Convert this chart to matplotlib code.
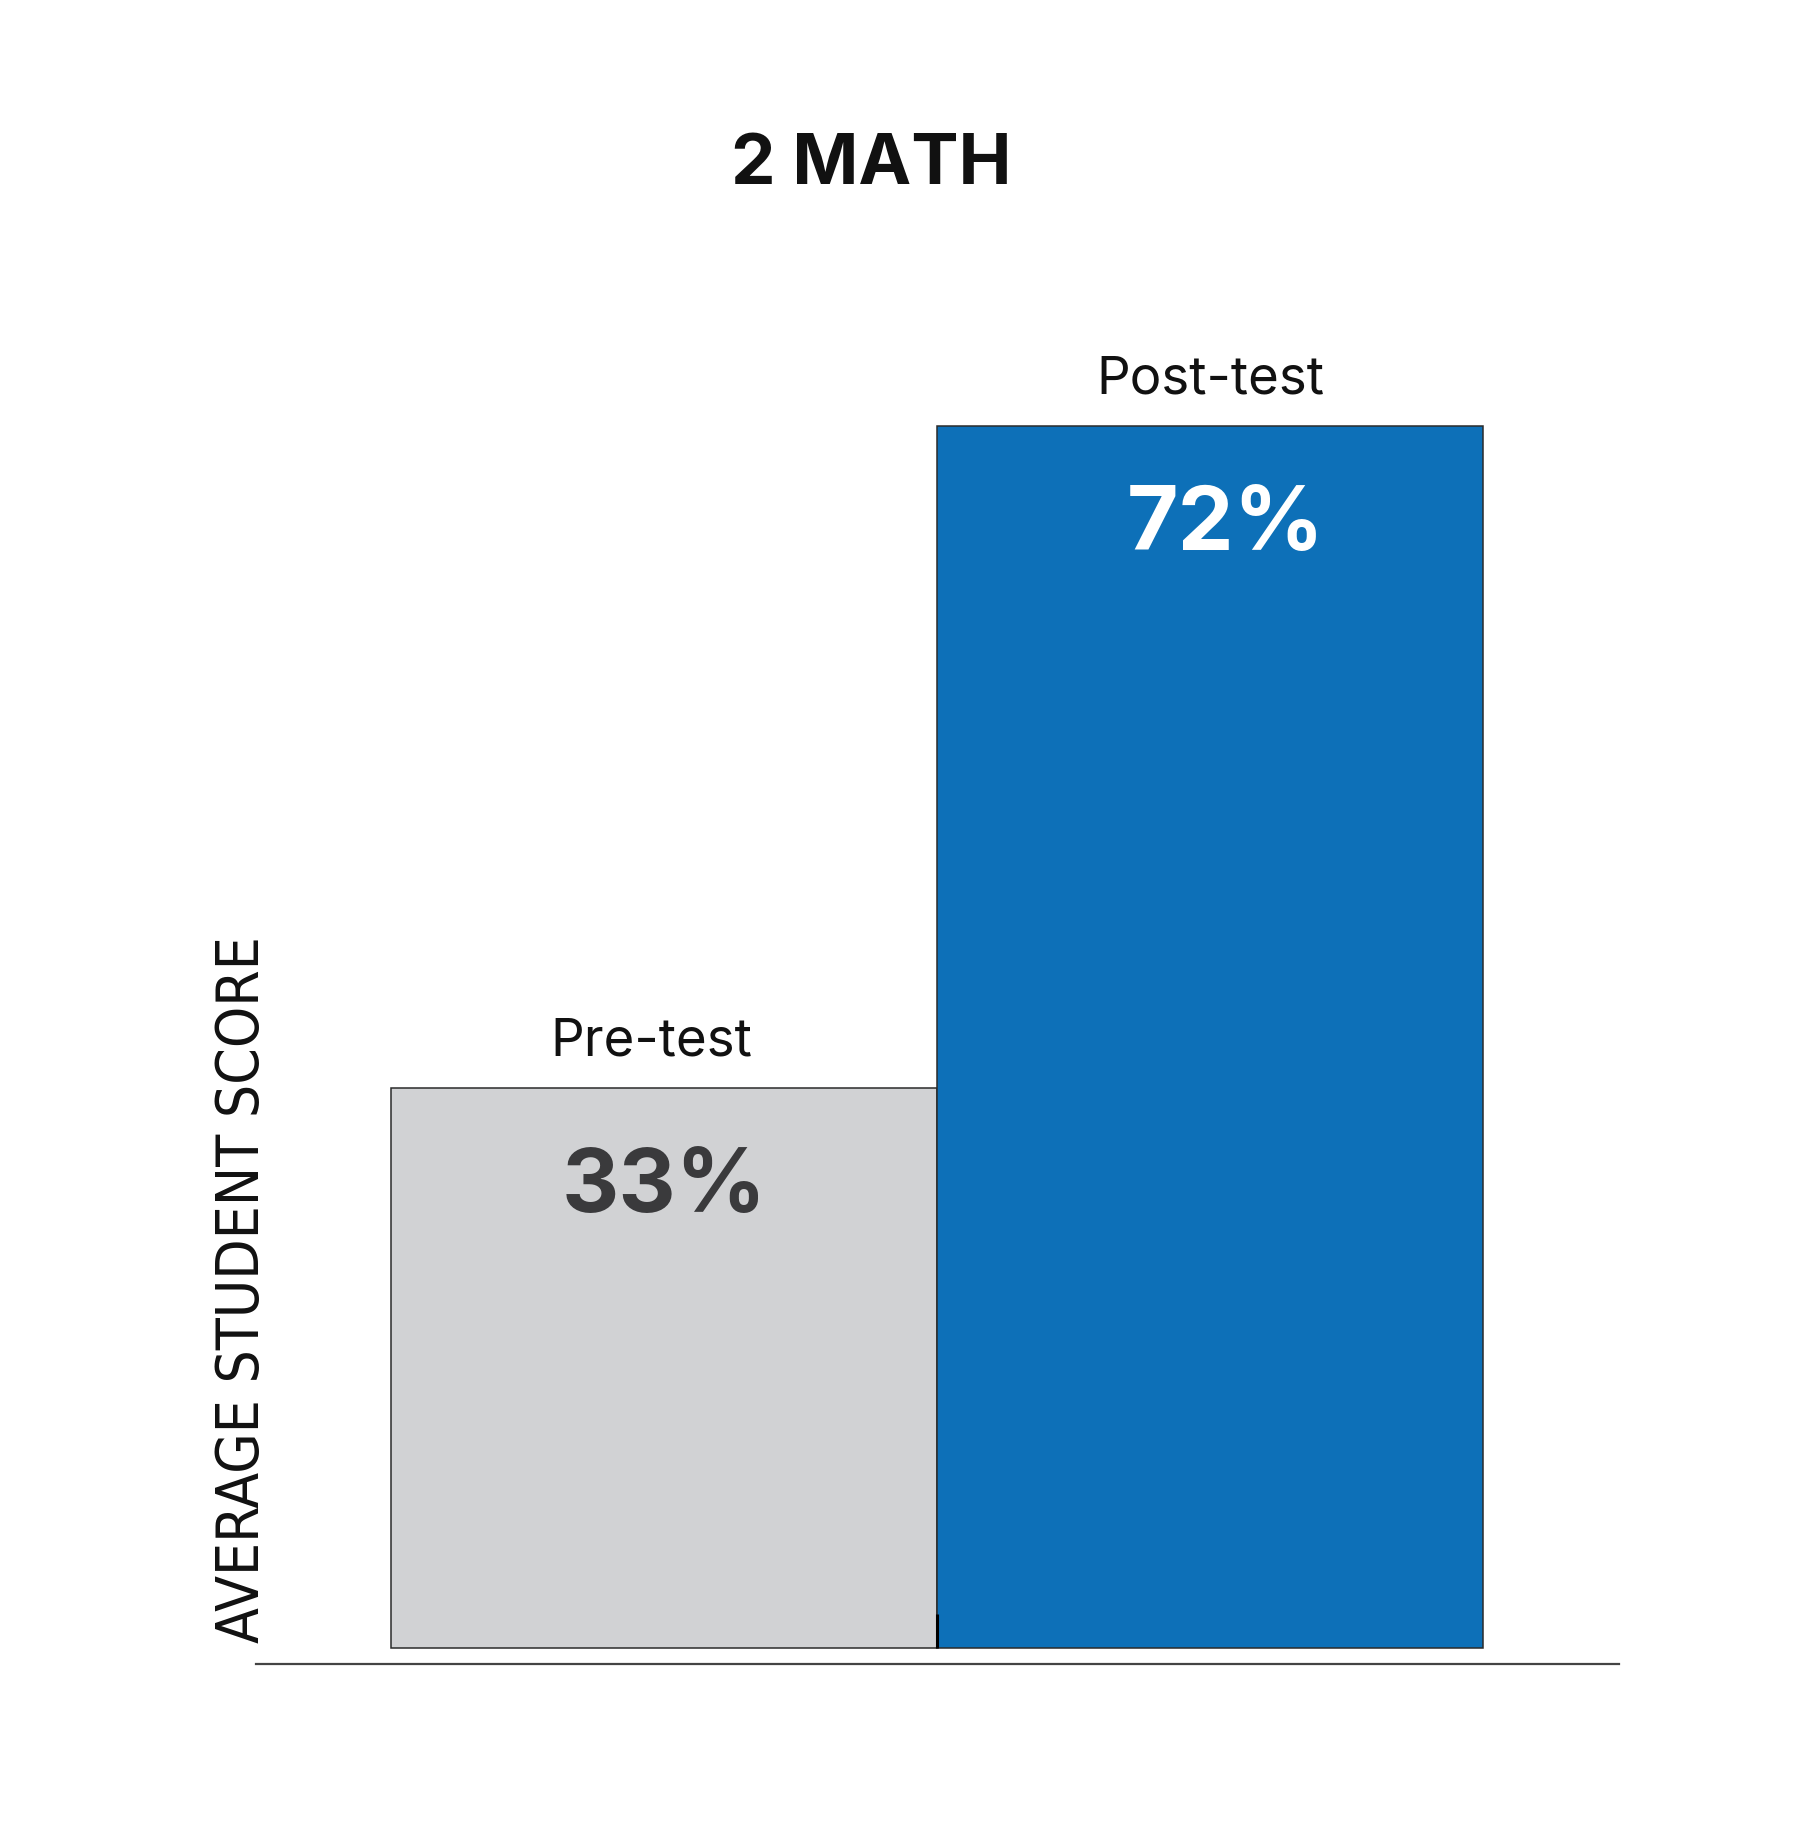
import matplotlib
matplotlib.use("Agg")
import matplotlib.pyplot as plt
from matplotlib import font_manager

categories = ["Pre-test", "Post-test"]
scores = [33, 72]
value_labels = ["33%", "72%"]
bar_colors = ["#D1D2D4", "#0D70B8"]
value_colors = ["#3A3A3C", "#FFFFFF"]
title = "2 MATH"
ylabel = "AVERAGE STUDENT SCORE"

W, H = 1800, 1831
fig = plt.figure(figsize=(W / 100, H / 100), dpi=100)
fig.patch.set_facecolor("white")

left_px, right_px, base_px, top_px = 256, 1619, 1665, 291
ax = fig.add_axes([left_px / W, 1 - base_px / H, (right_px - left_px) / W, (base_px - top_px) / H])
ax.set_xlim(-0.747, 1.749)
ax.set_ylim(-0.94, 80)
ax.axis("off")

xs = list(range(len(categories)))
ax.bar(xs, scores, width=1.0, color=bar_colors, edgecolor="#2b2b2b", linewidth=1.1, zorder=2)

ax.axhline(-0.94, color="#444444", linewidth=1.6, zorder=3, clip_on=False)
ax.plot([0.5, 0.5], [0, 2.0], color="black", linewidth=2.2, zorder=3, solid_capstyle="butt")

cat_dx = [-9, 0]
val_dx = [0, 11]
for x, s, cat, vl, vc, cdx, vdx in zip(xs, scores, categories, value_labels, value_colors, cat_dx, val_dx):
    ax.annotate(cat, (x, s), xytext=(cdx, 24), textcoords="offset points",
                ha="center", va="baseline", fontsize=38, family=["Inter", "DejaVu Sans"],
                color="#111111")
    ax.annotate(vl, (x, s), xytext=(vdx, -89), textcoords="offset points",
                ha="center", va="baseline", fontsize=64, fontweight="bold",
                family=["Inter", "DejaVu Sans"], color=vc)

fig.text(871 / W, 1 - 165 / H, title, ha="center", va="center", fontsize=51,
         fontweight="bold", family=["Inter", "DejaVu Sans"], color="#111111")

names = {f.name for f in font_manager.fontManager.ttflist}
if "Liberation Sans Narrow" in names:
    yfam, ystretch = ["Liberation Sans Narrow"], "normal"
else:
    yfam, ystretch = ["DejaVu Sans"], "condensed"
fig.text(243 / W, 1 - 1290 / H, ylabel, rotation=90, ha="center", va="center",
         fontsize=42, family=yfam, fontstretch=ystretch, color="#111111")

fig.savefig("out.png", dpi=100, facecolor="white")
